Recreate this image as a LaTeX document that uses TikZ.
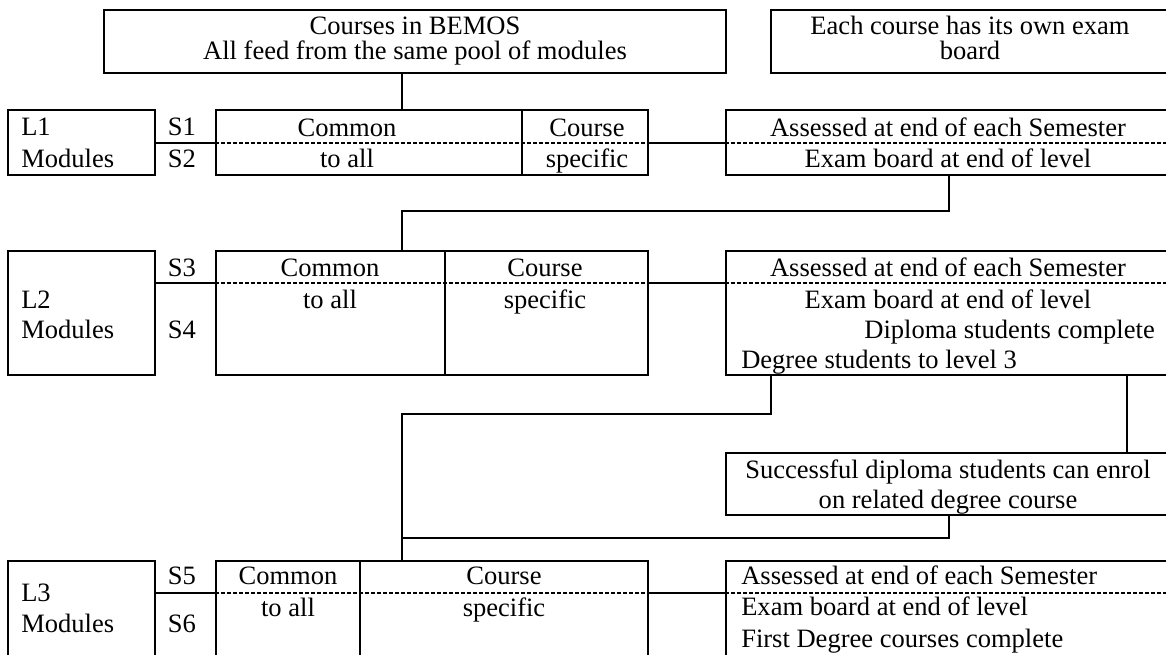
\documentclass[tikz,border=0pt]{standalone}
\usepackage{fontspec}
\setmainfont{Liberation Serif}
\usetikzlibrary{fit}
\begin{document}
\begin{tikzpicture}[x=0.75pt,y=-0.75pt,
  box/.style={draw, line width=1.3pt, inner sep=0pt},
  lbl/.style={inner sep=0pt, font=\fontsize{19.9}{24}\selectfont, text height=14pt, text depth=4.4pt},
  wire/.style={line width=1.3pt},
  sepline/.style={line width=0.8pt, dash pattern=on 3pt off 1.5pt}]
\useasboundingbox (0,0) rectangle (1166,654);
\clip (0,0) rectangle (1166,654);

% boxes
\node[box, fit={(104,10) (726,73)}] (top1) {};
\node[box, fit={(771,10) (1172,73)}] (top2) {};

\node[box, fit={(8,110) (155,175)}] (l1) {};
\node[box, fit={(216,110) (522,175)}] (l1a) {};
\node[box, fit={(522,110) (648,175)}] (l1b) {};
\node[box, fit={(726,110) (1172,175)}] (l1r) {};

\node[box, fit={(8,251) (155,375)}] (l2) {};
\node[box, fit={(216,251) (445,375)}] (l2a) {};
\node[box, fit={(445,251) (648,375)}] (l2b) {};
\node[box, fit={(726,251) (1172,375)}] (l2r) {};

\node[box, fit={(726,453) (1172,515)}] (succ) {};

\node[box, fit={(8,561) (155,680)}] (l3) {};
\node[box, fit={(216,561) (360,680)}] (l3a) {};
\node[box, fit={(360,561) (648,680)}] (l3b) {};
\node[box, fit={(726,561) (1172,680)}] (l3r) {};

% mid lines
\coordinate (m1) at (0,143);
\coordinate (m2) at (0,283);
\coordinate (m3) at (0,593);
\draw[sepline] (l1a.west |- m1) -- (l1b.east |- m1);
\draw[sepline] (l1r.west |- m1) -- (l1r.east |- m1);
\draw[sepline] (l2a.west |- m2) -- (l2b.east |- m2);
\draw[sepline] (l2r.west |- m2) -- (l2r.east |- m2);
\draw[sepline] (l3a.west |- m3) -- (l3b.east |- m3);
\draw[sepline] (l3r.west |- m3) -- (l3r.east |- m3);

\draw[wire] (l1.east |- m1) -- (l1a.west |- m1);
\draw[wire] (l1b.east |- m1) -- (l1r.west |- m1);
\draw[wire] (l2.east |- m2) -- (l2a.west |- m2);
\draw[wire] (l2b.east |- m2) -- (l2r.west |- m2);
\draw[wire] (l3.east |- m3) -- (l3a.west |- m3);
\draw[wire] (l3b.east |- m3) -- (l3r.west |- m3);

% connectors
\coordinate (j) at (402,0);
\coordinate (k1) at (949,211);
\coordinate (k2) at (771,414);
\coordinate (k3) at (1127,0);
\coordinate (k4) at (949,538);
\draw[wire] (top1.south -| j) -- (l1a.north -| j);
\draw[wire] (l1r.south -| k1) -- (k1) -| (l2a.north -| j);
\draw[wire] (l2r.south -| k2) -- (k2) -| (l3b.north -| j);
\draw[wire] (l2r.south -| k3) -- (succ.north -| k3);
\draw[wire] (succ.south -| k4) -- (k4) -- (k4 -| j);

% texts
\node[lbl] (t1a) at (415,28) {Courses in BEMOS};
\node[lbl] (t1b) at (415,53) {All feed from the same pool of modules};
\node[lbl] (t2a) at (970,28) {Each course has its own exam};
\node[lbl] (t2b) at (970,53) {board};

\node[lbl, anchor=west] (n1a) at (21,129) {L1};
\node[lbl, anchor=west] (n1b) at (21,161) {Modules};
\node[lbl] (s1) at (182,129) {S1};
\node[lbl] (s2) at (182,161) {S2};
\node[lbl] (c1a) at (347,130) {Common};
\node[lbl] (c1b) at (347,161) {to all};
\node[lbl] (d1a) at (587,130) {Course};
\node[lbl] (d1b) at (587,161) {specific};
\node[lbl] (r1a) at (948,130) {Assessed at end of each Semester};
\node[lbl] (r1b) at (948,161) {Exam board at end of level};

\node[lbl, anchor=west] (n2a) at (21,302) {L2};
\node[lbl, anchor=west] (n2b) at (21,332) {Modules};
\node[lbl] (s3) at (182,270) {S3};
\node[lbl] (s4) at (182,332) {S4};
\node[lbl] (c2a) at (330,270) {Common};
\node[lbl] (c2b) at (330,302) {to all};
\node[lbl] (d2a) at (545,270) {Course};
\node[lbl] (d2b) at (545,302) {specific};
\node[lbl] (r2a) at (948,270) {Assessed at end of each Semester};
\node[lbl] (r2b) at (948,302) {Exam board at end of level};
\node[lbl, anchor=east] (r2c) at (1155,332) {Diploma students complete};
\node[lbl, anchor=west] (r2d) at (741,362) {Degree students to level 3};

\node[lbl] (sa) at (948,472) {Successful diploma students can enrol};
\node[lbl] (sb) at (948,502) {on related degree course};

\node[lbl, anchor=west] (n3a) at (21,595) {L3};
\node[lbl, anchor=west] (n3b) at (21,626) {Modules};
\node[lbl] (s5) at (182,578) {S5};
\node[lbl] (s6) at (182,626) {S6};
\node[lbl] (c3a) at (288,578) {Common};
\node[lbl] (c3b) at (288,610) {to all};
\node[lbl] (d3a) at (504,578) {Course};
\node[lbl] (d3b) at (504,610) {specific};
\node[lbl, anchor=west] (r3a) at (741,578) {Assessed at end of each Semester};
\node[lbl, anchor=west] (r3b) at (741,609) {Exam board at end of level};
\node[lbl, anchor=west] (r3c) at (741,641) {First Degree courses complete};
\end{tikzpicture}
\end{document}
